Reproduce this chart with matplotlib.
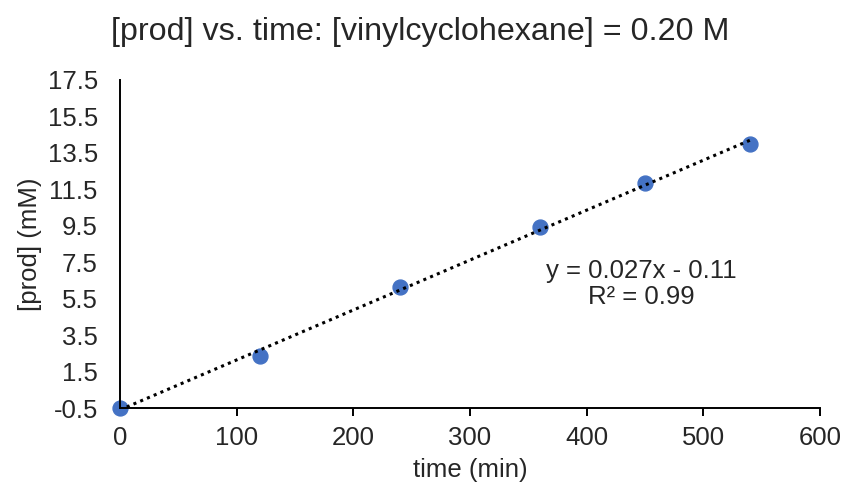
import numpy as np
import matplotlib.pyplot as plt

plt.rcParams['font.family'] = ['Liberation Sans', 'DejaVu Sans']

time_min = [0, 120, 240, 360, 450, 540]
prod_mM = [-0.5, 2.35, 6.12, 9.45, 11.83, 13.99]
yticks = [-0.5, 1.5, 3.5, 5.5, 7.5, 9.5, 11.5, 13.5, 15.5, 17.5]
xticks = [0, 100, 200, 300, 400, 500, 600]
eq_label = 'y = 0.027x - 0.11\nR² = 0.99'

txt = '#262626'
fig = plt.figure(figsize=(8.47, 4.92), dpi=100)
ax = fig.add_axes([0.1417, 0.1707, 0.8263, 0.6667])

# linear trendline
slope, intercept = np.polyfit(time_min, prod_mM, 1)
fit_x = np.array([time_min[0], time_min[-1]])
ax.plot(fit_x, slope * fit_x + intercept, color='black', linestyle=(0, (1, 1.4)),
        linewidth=2.2, zorder=3)
ax.scatter(time_min, prod_mM, s=115, color='#4472C4', zorder=2, clip_on=False)

ax.set_xlim(0, 600)
ax.set_ylim(-0.5, 17.5)
ax.set_xticks(xticks)
ax.set_yticks(yticks)
ax.set_yticklabels([f'{v:g}' for v in yticks])
ax.tick_params(axis='x', length=6, width=1.4, labelsize=18.5, labelcolor=txt, pad=7)
ax.tick_params(axis='y', length=0, labelsize=18.5, labelcolor=txt, pad=16)

for s in ['top', 'right']:
    ax.spines[s].set_visible(False)
for s in ['left', 'bottom']:
    ax.spines[s].set_linewidth(1.4)
    ax.spines[s].set_color('black')

ax.set_xlabel('time (min)', fontsize=18.5, color=txt, labelpad=6)
ax.set_ylabel('[prod] (mM)', fontsize=18.5, color=txt, labelpad=4)
fig.text(0.496, 1 - 32 / 492, '[prod] vs. time: [vinylcyclohexane] = 0.20 M',
         fontsize=23.2, color=txt, ha='center', va='center')

ax.text(447, 6.3, eq_label, fontsize=18.5, color=txt,
        ha='center', va='center', multialignment='center', linespacing=1.1)

fig.savefig('out.png', dpi=100)
